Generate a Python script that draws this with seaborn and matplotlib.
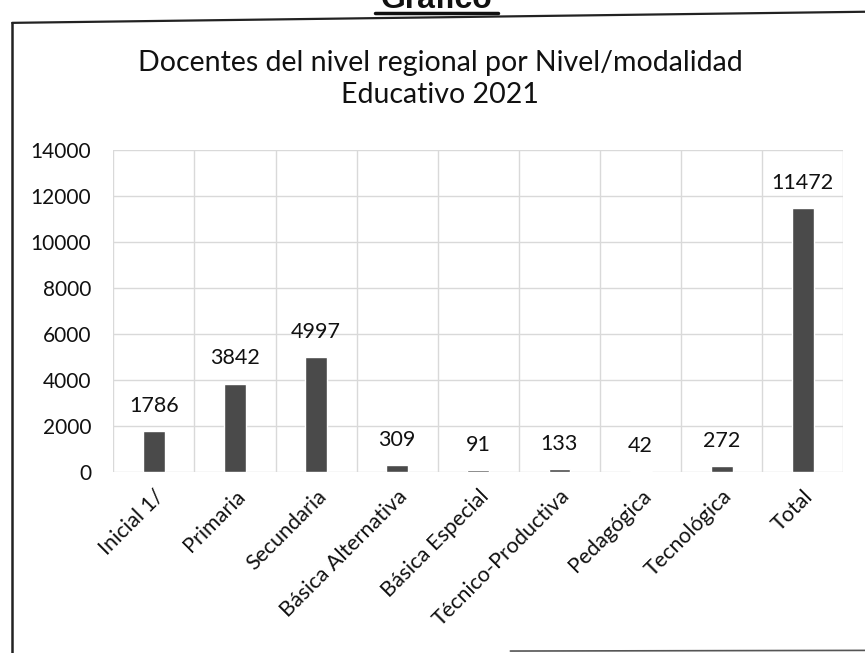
import pandas as pd
import matplotlib.pyplot as plt
import seaborn as sns
from matplotlib.lines import Line2D

# Data
categorias = ['Inicial 1/', 'Primaria', 'Secundaria', 'Básica Alternativa', 'Básica Especial',
              'Técnico-Productiva', 'Pedagógica', 'Tecnológica', 'Total']
docentes = [1786, 3842, 4997, 309, 91, 133, 42, 272, 11472]
y_ticks = [0, 2000, 4000, 6000, 8000, 10000, 12000, 14000]

df = pd.DataFrame({'Nivel': categorias, 'Docentes': docentes})

sns.set_theme(style='white')
plt.rcParams['font.family'] = ['Lato', 'DejaVu Sans']

fig = plt.figure(figsize=(8.65, 6.53), dpi=100)
ax = fig.add_axes([0.131, 0.277, 0.844, 0.493])

sns.barplot(data=df, x='Nivel', y='Docentes', color='#4a4a4a', width=0.27, ax=ax)

for i, v in enumerate(docentes):
    ax.annotate(str(v), (i, v), xytext=(0, 11), textcoords='offset points',
                ha='center', va='bottom', fontsize=15.5, color='#111111')

ax.set_ylim(0, 14000)
ax.set_yticks(y_ticks)
ax.set_yticklabels([str(t) for t in y_ticks], fontsize=15, color='#111111')
ax.set_xlim(-0.5, len(categorias) - 0.5)
ax.set_xticks(range(len(categorias)))
ax.set_xticklabels(categorias, rotation=45, ha='right', rotation_mode='anchor',
                   fontsize=15.5, color='#111111')
ax.set_xlabel('')
ax.set_ylabel('')
ax.tick_params(axis='y', length=0, pad=16)
ax.tick_params(axis='x', length=0, pad=10)

# grid: horizontal at ticks, vertical between categories
ax.yaxis.grid(True, color='#d9d9d9', linewidth=1.0)
ax.set_xticks([x + 0.5 for x in range(-1, len(categorias))], minor=True)
ax.tick_params(axis='x', which='minor', length=0)
ax.xaxis.grid(True, which='minor', color='#d9d9d9', linewidth=1.0)
ax.set_axisbelow(True)
for s in ax.spines.values():
    s.set_visible(False)

fig.text(0.509, 0.879, 'Docentes del nivel regional por Nivel/modalidad\nEducativo 2021',
         ha='center', va='center', fontsize=20.5, linespacing=1.3, color='#111111')

# header of the scanned page, partly cut off at the top
fig.text(0.505, 0.988, 'Gráfico', ha='center', va='baseline', fontsize=23,
         fontweight='bold', family=['Liberation Sans', 'DejaVu Sans'], color='#111111')
fig.add_artist(Line2D([0.434, 0.576], [0.980, 0.980], color='#111111', linewidth=2.5))

# frame around the chart
fig.add_artist(Line2D([0.014, 1.0], [0.965, 0.982], color='#222222', linewidth=1.6))
fig.add_artist(Line2D([0.014, 0.014], [0.965, 0.0], color='#222222', linewidth=1.8))
fig.add_artist(Line2D([0.59, 1.0], [0.003, 0.004], color='#555555', linewidth=1.2))

fig.savefig('out.png', dpi=100, facecolor='white')
